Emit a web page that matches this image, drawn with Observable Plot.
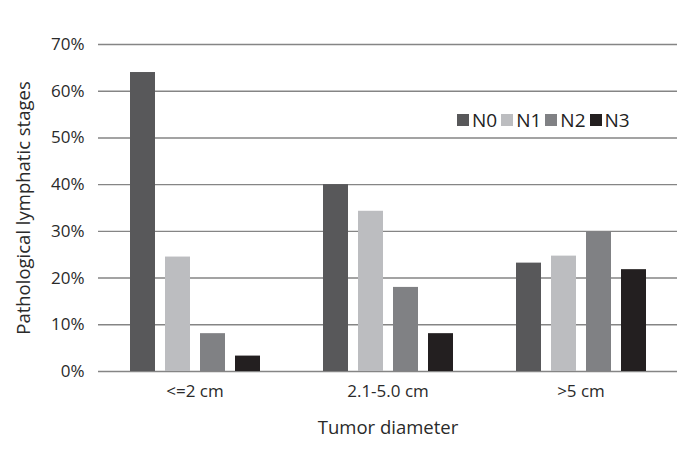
<!DOCTYPE html>
<html><head><meta charset="utf-8">
<script src="https://cdn.jsdelivr.net/npm/d3@7"></script>
<script src="https://cdn.jsdelivr.net/npm/@observablehq/plot@0.6"></script>
<style>
body{margin:0;background:#fff;font-family:"Open Sans",sans-serif}
#wrap{position:relative;width:698px;height:458px}
#legend{position:absolute;left:457px;top:109px;display:flex;font-size:19px;color:#222;line-height:22px}
#legend .item{display:flex;align-items:center;margin-right:4px}
#legend .sw{width:12px;height:12px;margin-right:3px}
svg [aria-label="y-axis label"], svg [aria-label="fx-axis label"]{font-size:18.5px}
</style>
</head><body><div id="wrap"></div>
<script>
const groups = ["<=2 cm", "2.1-5.0 cm", ">5 cm"];
const stages = ["N0", "N1", "N2", "N3"];
const n0 = [64.0, 40.0, 23.2];
const n1 = [24.5, 34.3, 24.7];
const n2 = [8.1, 18.0, 29.9];
const n3 = [3.3, 8.1, 21.8];
const colors = ["#58585a", "#bcbdc0", "#808184", "#231f20"];
const yTicks = [0, 10, 20, 30, 40, 50, 60, 70];

const data = [];
[n0, n1, n2, n3].forEach((arr, si) => arr.forEach((v, gi) => data.push({group: groups[gi], stage: stages[si], value: v})));

const chart = Plot.plot({
  width: 698, height: 458,
  marginTop: 44, marginBottom: 87, marginLeft: 97, marginRight: 20,
  style: {fontFamily: "Open Sans", fontSize: "17px", color: "#2a2a2a", background: "#fff"},
  fx: {domain: groups, padding: 0, label: null},
  x: {domain: stages, paddingInner: 0.3, paddingOuter: 0.86, axis: null},
  y: {domain: [0, 70]},
  color: {domain: stages, range: colors},
  marks: [
    Plot.ruleY(yTicks, {stroke: "#858585", strokeWidth: 1.4}),
    Plot.barY(data, {fx: "group", x: "stage", y: "value", fill: "stage"}),
    Plot.axisY({ticks: yTicks, tickSize: 0, tickPadding: 14, tickFormat: d => d + "%", label: "Pathological lymphatic stages", labelAnchor: "center", labelArrow: "none", labelOffset: 82}),
    Plot.axisFx({anchor: "bottom", tickSize: 0, tickPadding: 13, label: "Tumor diameter", labelAnchor: "center", labelArrow: "none", labelOffset: 62})
  ]
});
const wrap = document.getElementById("wrap");
wrap.appendChild(chart);
const legend = document.createElement("div");
legend.id = "legend";
stages.forEach((s, i) => {
  const it = document.createElement("div"); it.className = "item";
  const sw = document.createElement("span"); sw.className = "sw"; sw.style.background = colors[i];
  const t = document.createElement("span"); t.textContent = s;
  it.appendChild(sw); it.appendChild(t); legend.appendChild(it);
});
wrap.appendChild(legend);
</script>
</body></html>
